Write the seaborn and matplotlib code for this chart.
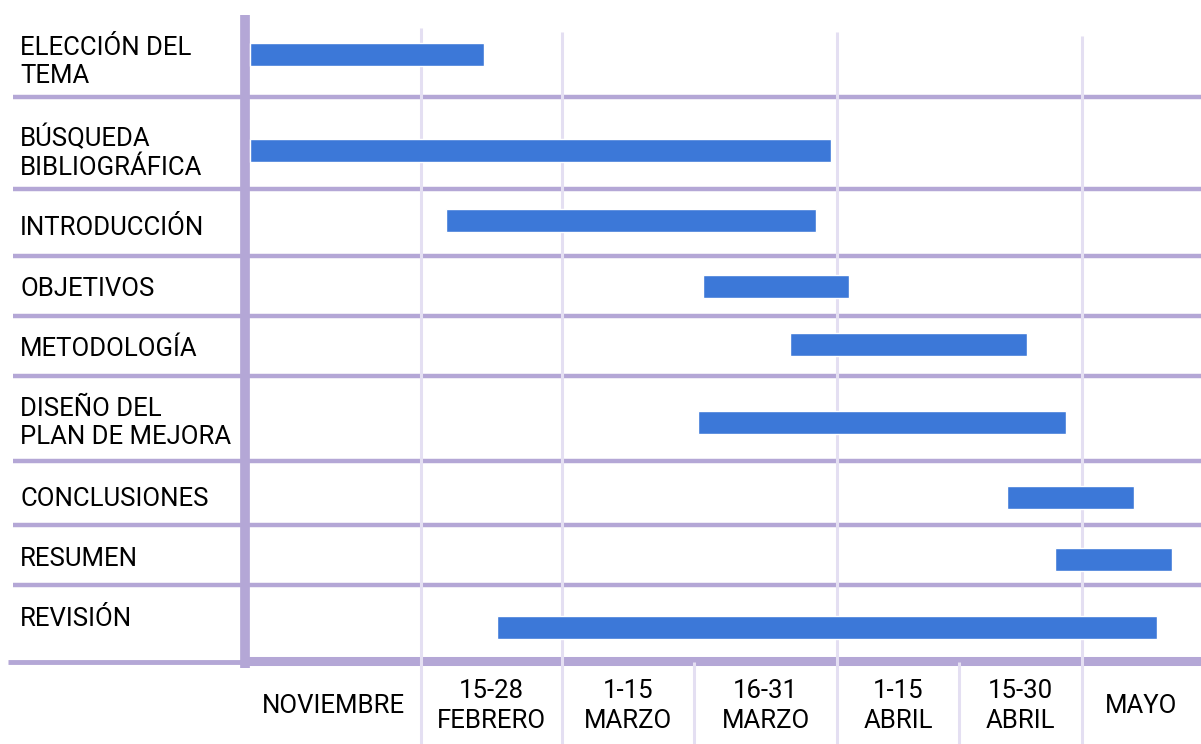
import numpy as np
import pandas as pd
import matplotlib
matplotlib.use("Agg")
import matplotlib.pyplot as plt
import seaborn as sns

# tasks and when they run, in periods (0 = start of NOVIEMBRE, 7 = end of MAYO)
tasks = ["ELECCIÓN DEL\nTEMA", "BÚSQUEDA\nBIBLIOGRÁFICA", "INTRODUCCIÓN", "OBJETIVOS",
         "METODOLOGÍA", "DISEÑO DEL\nPLAN DE MEJORA", "CONCLUSIONES", "RESUMEN", "REVISIÓN"]
start = [0.03, 0.03, 1.18, 3.06, 3.67, 3.03, 5.39, 5.78, 1.54]
end = [1.45, 3.96, 3.85, 4.10, 5.55, 5.87, 6.44, 6.76, 6.63]
periods = ["NOVIEMBRE", "15-28\nFEBRERO", "1-15\nMARZO", "16-31\nMARZO",
           "1-15\nABRIL", "15-30\nABRIL", "MAYO"]

# layout (pixels from top-left of the page)
col_px = [0, 245, 421, 562, 694, 837, 959, 1082, 1201]
col_units = [-245 / 176, 0, 1, 2, 3, 4, 5, 6, 7]
row_lines = [97, 189, 256, 316, 376, 461, 525, 585]
bar_y = [54, 150, 220, 286, 344, 422, 497, 559, 627]
label_y = [62, 152, 228, 289, 349, 423, 499, 559, 619]

purple = "#b4a7d6"
light = "#e4dff2"
blue = "#3c78d8"

sns.set_style("white")
plt.rcParams["font.family"] = ["Roboto", "DejaVu Sans"]


def to_px(u):
    return np.interp(u, col_units, col_px)


def to_units(p):
    return np.interp(p, col_px, col_units)


df = pd.DataFrame({"task": tasks, "start": start,
                   "length": np.subtract(end, start), "ypos": bar_y})

fig = plt.figure(figsize=(12.01, 7.44), dpi=100)
ax = fig.add_axes([0, 0, 1, 1])

sns.barplot(data=df, x="length", y="ypos", orient="y", native_scale=True,
            left=df["start"].to_numpy(), width=23 / 58, color=blue,
            saturation=1, errorbar=None, ax=ax, zorder=5)

ax.set_xscale("function", functions=(to_px, to_units))
ax.set_xlim(col_units[0], 7)
ax.set_ylim(744, 0)

# row separators and axes
ax.hlines(row_lines, to_units(13), 7, color=purple, lw=3.2, zorder=2)
ax.hlines(661, to_units(241), 7, color=purple, lw=6.5, zorder=3)
ax.hlines(662, to_units(8), 0, color=purple, lw=3.5, zorder=3)
ax.vlines(0, 15, 668, color=purple, lw=7, zorder=3)

# period column lines
for c, top in zip([1, 2, 4, 6], [28, 32, 32, 36]):
    ax.vlines(c, top, 744, color=light, lw=2.2, zorder=4)
ax.vlines([3, 5], 662, 744, color=light, lw=2.2, zorder=4)

for lab, y in zip(tasks, label_y):
    ax.text(to_units(20), y, lab, ha="left", va="center", fontsize=18.5,
            color="black", linespacing=1.25)

for i, lab in enumerate(periods):
    ax.text(i + 0.5, 706, lab, ha="center", va="center", fontsize=18.5,
            color="black", linespacing=1.28, multialignment="center")

ax.set_axis_off()
fig.savefig("out.png", dpi=100)
